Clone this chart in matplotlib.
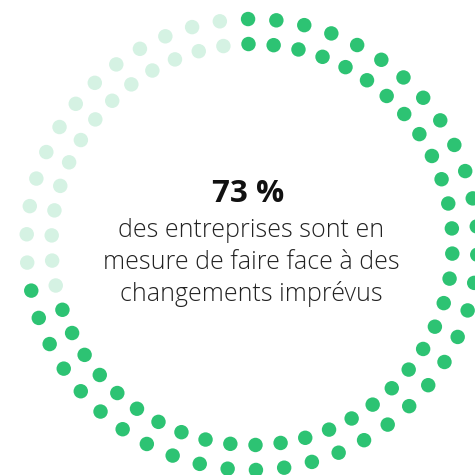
import numpy as np
import matplotlib
matplotlib.use("Agg")
import matplotlib.pyplot as plt

# data
share_pct = 73
dots_per_ring = 50
green_per_ring = [37, 36]          # outer, inner  (37 + 36 = 73 of 100 dots)
ring_radius = [225.5, 200.5]       # px
headline = "73 %"
caption_lines = ["des entreprises sont en",
                 "mesure de faire face à des",
                 "changements imprévus"]

GREEN = "#2dc373"
LIGHT = "#d5f2e3"

fig = plt.figure(figsize=(4.75, 4.75), dpi=100)
ax = fig.add_axes([0, 0, 1, 1])
ax.set_xlim(0, 475)
ax.set_ylim(475, 0)
ax.set_aspect("equal")
ax.axis("off")

# ring centre is a touch right of the text centre, first dot sits ~1 deg left of top
cx, cy = 252, 244.5
start = np.deg2rad(-1)
for r, n_green in zip(ring_radius, green_per_ring):
    theta = start + np.arange(dots_per_ring) * 2 * np.pi / dots_per_ring
    x = cx + r * np.sin(theta)
    y = cy - r * np.cos(theta)
    cols = [GREEN if i < n_green else LIGHT for i in range(dots_per_ring)]
    ax.scatter(x, y, s=108, c=cols, linewidths=0, zorder=2)

ax.text(248, 202, headline, ha="center", va="baseline", fontsize=22.5,
        fontweight="bold", color="#111111", family="Open Sans")
for i, line in enumerate(caption_lines):
    ax.text(251, 237 + i * 32, line, ha="center", va="baseline", fontsize=18,
            fontweight="light", color="#222222", family="Open Sans")

fig.savefig("out.png", dpi=100)
